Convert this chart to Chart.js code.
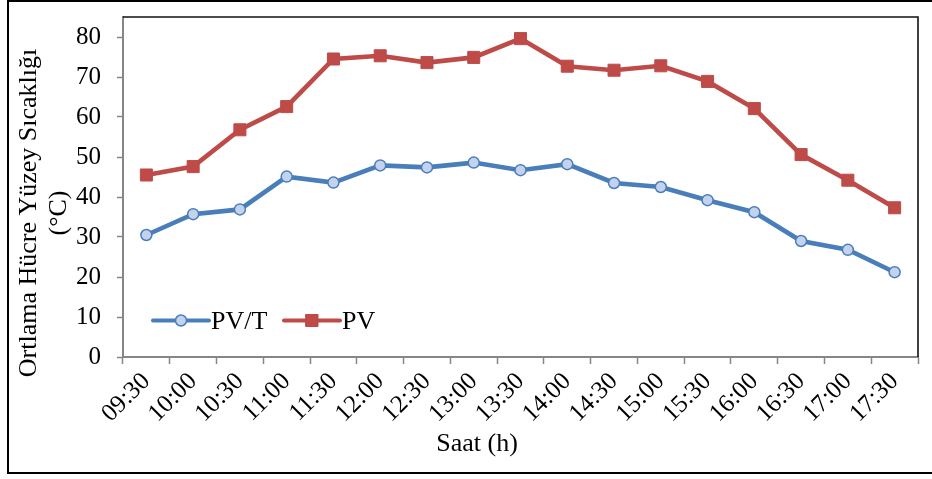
<!DOCTYPE html>
<html>
<head>
<meta charset="utf-8">
<script src="https://cdn.jsdelivr.net/npm/chart.js@4/dist/chart.umd.min.js"></script>
<style>
  html, body { margin: 0; padding: 0; background: #fff; }
  canvas { display: block; }
</style>
</head>
<body>
<canvas id="c" width="932" height="479"></canvas>
<script>
// Half-hour readings, 09:30 - 17:30
const times = ['09:30','10:00','10:30','11:00','11:30','12:00','12:30','13:00','13:30',
               '14:00','14:30','15:00','15:30','16:00','16:30','17:00','17:30'];
// Average cell surface temperature (°C)
const pvtTemp = [30.5, 35.7, 36.9, 45.1, 43.6, 47.9, 47.4, 48.6, 46.7,
                 48.2, 43.5, 42.5, 39.2, 36.2, 29.0, 26.8, 21.2];
const pvTemp  = [45.5, 47.6, 56.8, 62.6, 74.5, 75.3, 73.6, 74.9, 79.6,
                 72.7, 71.7, 72.8, 68.9, 62.1, 50.6, 44.2, 37.3];
const yTicks = [0, 10, 20, 30, 40, 50, 60, 70, 80];
const seriesNames = ['PV/T', 'PV'];

const SERIF = '"Liberation Serif", "Times New Roman", serif';
const BLUE = '#4a7ebb';
const RED = '#be4b48';
const AXIS = '#868686';

const PAD = { left: 9, top: 17, right: 14, bottom: 6 };
const AREA = { left: 123, top: 17, right: 918, bottom: 357 };

// Frame, axis titles and the in-plot legend
const decorations = {
  id: 'decorations',
  afterDraw(chart) {
    const ctx = chart.ctx;
    const a = chart.chartArea;
    ctx.save();

    // outer frame
    ctx.strokeStyle = '#000';
    ctx.lineWidth = 2;
    ctx.strokeRect(8, 1, 940, 472);

    // plot area top / right edges
    ctx.strokeStyle = '#111';
    ctx.lineWidth = 1.6;
    ctx.beginPath();
    ctx.moveTo(a.left, a.top);
    ctx.lineTo(a.right, a.top);
    ctx.lineTo(a.right, a.bottom);
    ctx.stroke();

    // y axis title (two lines)
    ctx.fillStyle = '#000';
    ctx.font = '26px ' + SERIF;
    ctx.textAlign = 'center';
    ctx.textBaseline = 'middle';
    const yt = ['Ortlama Hücre Yüzey Sıcaklığı', '(°C)'];
    const yx = [29, 59];
    yt.forEach((t, i) => {
      ctx.save();
      ctx.translate(yx[i], 213);
      ctx.rotate(-Math.PI / 2);
      ctx.fillText(t, 0, 0);
      ctx.restore();
    });

    // x axis title
    ctx.textBaseline = 'alphabetic';
    ctx.fillText('Saat (h)', 477, 451);

    // legend
    const items = [
      { ds: chart.data.datasets[0], x0: 153, x1: 209, tx: 211 },
      { ds: chart.data.datasets[1], x0: 284, x1: 340, tx: 342 }
    ];
    const ly = 320.5;
    items.forEach(it => {
      const ds = it.ds;
      const cx = (it.x0 + it.x1) / 2;
      ctx.strokeStyle = ds.borderColor;
      ctx.lineWidth = 4;
      ctx.lineCap = 'round';
      ctx.beginPath();
      ctx.moveTo(it.x0, ly);
      ctx.lineTo(it.x1, ly);
      ctx.stroke();
      ctx.fillStyle = ds.pointBackgroundColor;
      ctx.strokeStyle = ds.pointBorderColor;
      ctx.lineWidth = ds.pointBorderWidth;
      ctx.beginPath();
      if (ds.pointStyle === 'circle') {
        ctx.arc(cx, ly, ds.pointRadius, 0, Math.PI * 2);
      } else {
        const s = Math.SQRT1_2 * ds.pointRadius;
        ctx.rect(cx - s, ly - s, 2 * s, 2 * s);
      }
      ctx.fill();
      ctx.stroke();
      ctx.fillStyle = '#000';
      ctx.font = '26px ' + SERIF;
      ctx.textAlign = 'left';
      ctx.textBaseline = 'alphabetic';
      ctx.fillText(ds.label, it.tx, 328.5);
    });
    ctx.restore();
  }
};

new Chart(document.getElementById('c'), {
  type: 'line',
  data: {
    labels: times,
    datasets: [
      {
        label: seriesNames[0],
        data: pvtTemp,
        borderColor: BLUE,
        borderWidth: 4.6,
        pointStyle: 'circle',
        pointRadius: 5.5,
        pointBorderWidth: 1.5,
        pointBackgroundColor: '#c3d3ee',
        pointBorderColor: BLUE,
        tension: 0
      },
      {
        label: seriesNames[1],
        data: pvTemp,
        borderColor: RED,
        borderWidth: 4.6,
        pointStyle: 'rect',
        pointRadius: 8.5,
        pointBorderWidth: 1,
        pointBackgroundColor: RED,
        pointBorderColor: RED,
        tension: 0
      }
    ]
  },
  options: {
    responsive: false,
    animation: false,
    events: [],
    layout: { padding: PAD, autoPadding: false },
    plugins: {
      legend: { display: false },
      tooltip: { enabled: false },
      title: { display: false }
    },
    scales: {
      x: {
        type: 'category',
        offset: true,
        grid: {
          offset: true,
          drawOnChartArea: false,
          drawTicks: true,
          tickLength: 7,
          tickWidth: 1.5,
          tickColor: AXIS
        },
        border: { display: true, color: AXIS, width: 2 },
        ticks: {
          autoSkip: false,
          minRotation: 45,
          maxRotation: 45,
          padding: 3,
          color: '#000',
          font: { family: SERIF, size: 25 }
        },
        afterFit(scale) {
          scale.height = 479 - PAD.bottom - AREA.bottom;
          scale.paddingLeft = 0;
          scale.paddingRight = 0;
        }
      },
      y: {
        min: 0,
        max: 85,
        grid: {
          drawOnChartArea: false,
          drawTicks: true,
          tickLength: 6,
          tickWidth: 1.5,
          tickColor: AXIS
        },
        border: { display: true, color: AXIS, width: 2 },
        afterBuildTicks(scale) { scale.ticks = yTicks.map(v => ({ value: v })); },
        ticks: {
          padding: 16,
          color: '#000',
          font: { family: SERIF, size: 25 }
        },
        afterFit(scale) {
          scale.width = AREA.left - PAD.left;
          scale.paddingTop = 0;
          scale.paddingBottom = 0;
        }
      }
    }
  },
  plugins: [decorations]
});
</script>
</body>
</html>
